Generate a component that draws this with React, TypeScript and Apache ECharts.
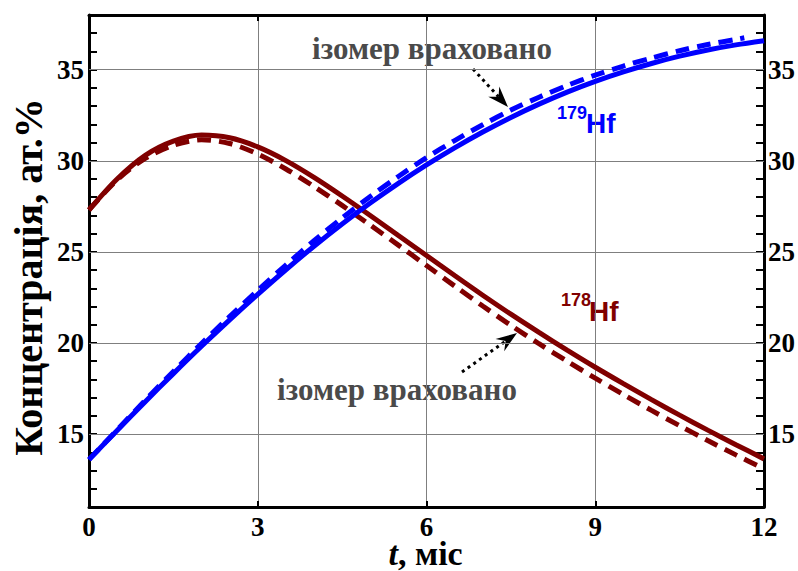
import React, { useEffect, useRef } from "react";
import * as echarts from "echarts";

// time grid, months
const T = [0, 0.5, 1, 1.5, 2, 2.5, 3, 3.5, 4, 4.5, 5, 5.5, 6, 6.5, 7, 7.5, 8, 8.5, 9, 9.5, 10, 10.5, 11, 11.5, 12];
const tBlueDashed = [0, 0.5, 1, 1.5, 2, 2.5, 3, 3.5, 4, 4.5, 5, 5.5, 6, 6.5, 7, 7.5, 8, 8.5, 9, 9.5, 10, 10.5, 11, 11.5, 11.65];

// 178Hf
const hf178 = [27.3, 29.0, 30.3, 31.08, 31.41, 31.26, 30.76, 30.01, 29.09, 28.07, 27.0, 25.9, 24.8, 23.7, 22.62, 21.58, 20.58, 19.61, 18.67, 17.77, 16.89, 16.04, 15.22, 14.42, 13.64];
const hf178Isomer = [27.3, 28.95, 30.13, 30.85, 31.15, 30.95, 30.37, 29.55, 28.59, 27.55, 26.47, 25.37, 24.25, 23.13, 22.03, 20.97, 19.96, 19.0, 18.07, 17.17, 16.3, 15.46, 14.65, 13.86, 13.1];
// 179Hf
const hf179 = [13.6, 15.2, 16.78, 18.32, 19.82, 21.27, 22.67, 24.02, 25.31, 26.53, 27.68, 28.76, 29.77, 30.71, 31.58, 32.38, 33.11, 33.77, 34.36, 34.88, 35.34, 35.74, 36.08, 36.36, 36.59];
const hf179Isomer = [13.6, 15.23, 16.86, 18.44, 19.97, 21.45, 22.89, 24.28, 25.61, 26.86, 28.04, 29.14, 30.17, 31.11, 31.98, 32.78, 33.49, 34.13, 34.7, 35.2, 35.64, 36.04, 36.38, 36.66, 36.75];

const yGridValues = [15, 20, 25, 30, 35];
const yLabelValues = [15, 20, 25, 30, 35];

const RED = "#800000";
const BLUE = "#0000ff";
const SERIF = "Liberation Serif";
const SANS = "Liberation Sans";

function pairs(t: number[], v: number[]) {
  return t.map((x, i) => [x, v[i]]);
}

function arrow(sx: number, sy: number, tx: number, ty: number) {
  const dx = tx - sx;
  const dy = ty - sy;
  const len = Math.sqrt(dx * dx + dy * dy);
  const ux = dx / len;
  const uy = dy / len;
  const px = -uy;
  const py = ux;
  const L = 21;
  const W = 7.5;
  const N = 7;
  const bx = tx - (L - N) * ux;
  const by = ty - (L - N) * uy;
  return [
    {
      type: "polyline",
      shape: { points: [[sx, sy], [bx, by]] },
      style: { stroke: "#000", lineWidth: 3, lineDash: [3, 4], fill: null },
      silent: true,
    },
    {
      type: "polygon",
      shape: {
        points: [
          [tx, ty],
          [tx - L * ux + W * px, ty - L * uy + W * py],
          [bx, by],
          [tx - L * ux - W * px, ty - L * uy - W * py],
        ],
      },
      style: { fill: "#000" },
      silent: true,
    },
  ];
}

export default function App() {
  const ref = useRef<HTMLDivElement>(null);

  useEffect(() => {
    if (!ref.current) return;
    const chart = echarts.init(ref.current, null, { renderer: "svg" });

    const axisLine = { show: true, onZero: false, lineStyle: { color: "#000", width: 3 } };
    const tickLabel = { fontFamily: SERIF, fontWeight: "bold" as const, fontSize: 27, color: "#000" };

    const lineSeries = (name: string, data: number[][], color: string, dashed: boolean) => ({
      name,
      type: "line",
      data,
      showSymbol: false,
      smooth: 0.3,
      z: 3,
      lineStyle: { color, width: 5, type: dashed ? [14, 8] : "solid", cap: "butt" },
      emphasis: { disabled: true },
    });

    const annot = (x: number, y: number) => ({
      type: "text",
      x,
      y,
      style: {
        text: "ізомер враховано",
        fontFamily: SERIF,
        fontWeight: "bold",
        fontSize: 31,
        fill: "#4a4a4a",
        textAlign: "center",
        textVerticalAlign: "middle",
      },
    });

    chart.setOption({
      animation: false,
      backgroundColor: "#fff",
      grid: { left: 89, right: 34, top: 15, bottom: 64, containLabel: false },
      xAxis: [
        {
          type: "value",
          min: 0,
          max: 12,
          interval: 3,
          position: "bottom",
          axisLine,
          axisTick: { show: true, inside: true, length: 6, lineStyle: { color: "#000", width: 2 } },
          axisLabel: { ...tickLabel, margin: 6 },
          splitLine: { show: true, lineStyle: { color: "#7f7f7f", width: 1 } },
        },
        {
          type: "value",
          min: 0,
          max: 12,
          interval: 3,
          position: "top",
          axisLine,
          axisTick: { show: true, inside: true, length: 6, lineStyle: { color: "#000", width: 2 } },
          axisLabel: { show: false },
          splitLine: { show: false },
        },
      ],
      yAxis: [
        {
          type: "value",
          min: 11,
          max: 38,
          interval: 1,
          position: "left",
          axisLine,
          axisTick: { show: true, inside: true, length: 8, lineStyle: { color: "#000", width: 2 } },
          axisLabel: {
            ...tickLabel,
            margin: 5,
            formatter: (v: number) => (yLabelValues.includes(v) ? String(v) : ""),
          },
          splitLine: { show: false },
        },
        {
          type: "value",
          min: 11,
          max: 38,
          interval: 1,
          position: "right",
          axisLine,
          axisTick: { show: true, inside: true, length: 8, lineStyle: { color: "#000", width: 2 } },
          axisLabel: {
            ...tickLabel,
            margin: 4,
            formatter: (v: number) => (yLabelValues.includes(v) ? String(v) : ""),
          },
          splitLine: { show: false },
        },
      ],
      series: [
        {
          type: "line",
          data: pairs(T, hf178),
          showSymbol: false,
          silent: true,
          z: 1,
          lineStyle: { opacity: 0 },
          markLine: {
            silent: true,
            z: 1,
            symbol: "none",
            label: { show: false },
            lineStyle: { color: "#7f7f7f", width: 1, type: "solid" },
            data: yGridValues.map((v) => ({ yAxis: v })),
          },
        },
        lineSeries("178Hf isomer", pairs(T, hf178Isomer), RED, true),
        lineSeries("178Hf", pairs(T, hf178), RED, false),
        lineSeries("179Hf isomer", pairs(tBlueDashed, hf179Isomer), BLUE, true),
        lineSeries("179Hf", pairs(T, hf179), BLUE, false),
      ],
      graphic: [
        {
          type: "text",
          x: 28,
          y: 277,
          rotation: Math.PI / 2,
          style: {
            text: "Концентрація, ат.%",
            fontFamily: SERIF,
            fontWeight: "bold",
            fontSize: 40,
            fill: "#000",
            textAlign: "center",
            textVerticalAlign: "middle",
          },
        },
        {
          type: "text",
          x: 398,
          y: 553,
          style: {
            text: "t",
            fontFamily: SERIF,
            fontWeight: "bold",
            fontStyle: "italic",
            fontSize: 34,
            fill: "#000",
            textAlign: "right",
            textVerticalAlign: "middle",
          },
        },
        {
          type: "text",
          x: 398,
          y: 553,
          style: {
            text: ", міс",
            fontFamily: SERIF,
            fontWeight: "bold",
            fontSize: 34,
            fill: "#000",
            textAlign: "left",
            textVerticalAlign: "middle",
          },
        },
        annot(432, 48),
        annot(397, 389),
        {
          type: "text",
          x: 557,
          y: 113,
          style: { text: "179", fontFamily: SANS, fontWeight: "bold", fontSize: 18, fill: BLUE, textAlign: "left", textVerticalAlign: "middle" },
        },
        {
          type: "text",
          x: 586,
          y: 123,
          style: { text: "Hf", fontFamily: SANS, fontWeight: "bold", fontSize: 28, fill: BLUE, textAlign: "left", textVerticalAlign: "middle" },
        },
        {
          type: "text",
          x: 561,
          y: 300,
          style: { text: "178", fontFamily: SANS, fontWeight: "bold", fontSize: 18, fill: RED, textAlign: "left", textVerticalAlign: "middle" },
        },
        {
          type: "text",
          x: 589,
          y: 311,
          style: { text: "Hf", fontFamily: SANS, fontWeight: "bold", fontSize: 28, fill: RED, textAlign: "left", textVerticalAlign: "middle" },
        },
        ...arrow(473, 69, 508, 107),
        ...arrow(462, 372, 517, 333),
      ],
    });

    return () => chart.dispose();
  }, []);

  return (
    <div
      ref={ref}
      style={{ position: "fixed", left: 0, top: 0, width: 798, height: 571, background: "#fff" }}
    />
  );
}
